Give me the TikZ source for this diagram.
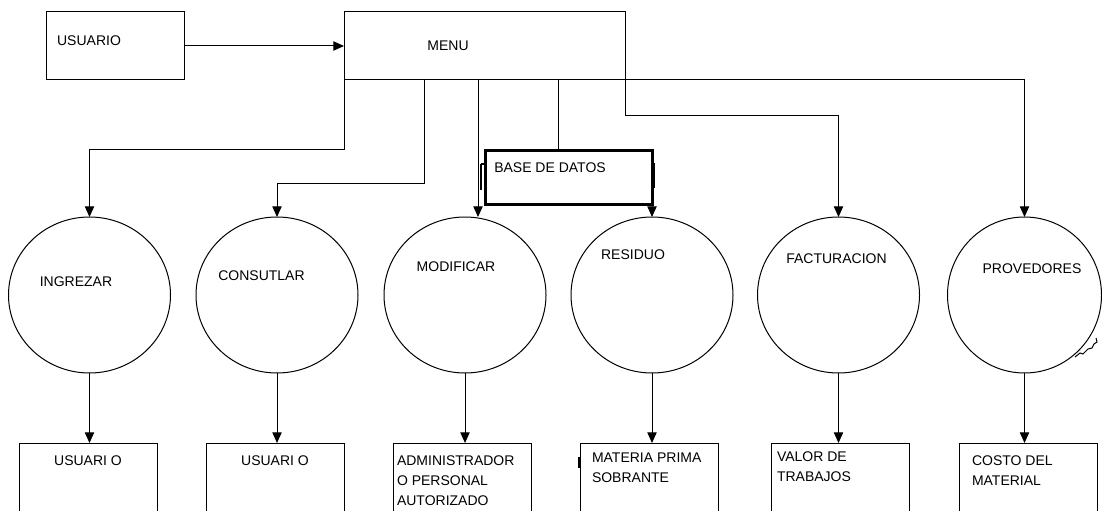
\documentclass[tikz,border=0pt]{standalone}
\usepackage{fontspec}
\setmainfont{Liberation Sans}
\usetikzlibrary{arrows.meta,shapes.geometric}

\begin{document}
\begin{tikzpicture}[x=0.75pt,y=-0.75pt,
  every node/.style={font=\fontsize{10.5pt}{15pt}\selectfont, inner sep=0pt, outer sep=0pt},
  box/.style={draw, line width=0.75pt, minimum height=51pt},
  lowbox/.style={draw, line width=0.75pt, minimum width=103.5pt, minimum height=57.75pt, anchor=north},
  proc/.style={draw, ellipse, line width=0.75pt, minimum width=121.5pt, minimum height=117pt},
  lbll/.style={align=left, anchor=north west},
  link/.style={line width=0.75pt},
  arr/.style={link, -{Triangle[length=8pt,width=7pt]}},
]
\useasboundingbox (0,0) rectangle (1102,510);
\fill[white] (0,0) rectangle (1102,510);
\clip (0,0) rectangle (1102,510);

% top row
\node[box, minimum width=103.5pt] (usr) at (115,46) {};
\node[box, minimum width=210.75pt] (menu) at (484.5,46) {};
\node (t-usr) at (89,41) {USUARIO};
\node (t-menu) at (448,46) {MENU};

% data store
\node[draw, line width=2.25pt, minimum width=124.9pt, minimum height=40.5pt] (base) at (568.75,177.5) {};
\node (t-base) at (550,168) {BASE DE DATOS};

% processes
\node[proc] (ing)  at (89.5,295) {};
\node[proc] (con)  at (277,295) {};
\node[proc] (mod)  at (465,295) {};
\node[proc] (res)  at (652,295) {};
\node[proc] (fac)  at (838.5,295) {};
\node[proc, minimum width=115.5pt] (prov) at (1024.5,295) {};
\node (t-ing)  at (76,282)    {INGREZAR};
\node (t-con)  at (261.5,276) {CONSUTLAR};
\node (t-mod)  at (456,267)   {MODIFICAR};
\node (t-res)  at (633,255)   {RESIDUO};
\node (t-fac)  at (836.5,259) {FACTURACION};
\node (t-prov) at (1032,269)  {PROVEDORES};

% outputs
\node[lowbox] (b1) at (88,443) {};
\node[lowbox] (b2) at (275.5,443) {};
\node[lowbox] (b3) at (462,443) {};
\node[lowbox] (b4) at (649.5,443) {};
\node[lowbox] (b5) at (840,443) {};
\node[lowbox] (b6) at (1028,443) {};
\node (t-b1) at (88,461) {USUARI O};
\node (t-b2) at (275,461) {USUARI O};
\node[lbll] (t-b3) at (397,456) {ADMINISTRADOR\\O PERSONAL\\AUTORIZADO};
\node[lbll] (t-b4) at (592,453) {MATERIA PRIMA\\SOBRANTE};
\node[lbll] (t-b5) at (777,452) {VALOR DE\\TRABAJOS};
\node[lbll] (t-b6) at (972,456) {COSTO DEL\\MATERIAL};

% branch points on the menu
\coordinate (m2) at (424,80);
\coordinate (m3) at (478,80);
\coordinate (m4) at (558,80);

% connectors
\draw[arr] (usr.east) -- (menu.west);
\draw[arr] (menu.south west) -- ++(0,69) -| (ing.north);
\draw[arr] (m2) -- ++(0,103) -| (con.north);
\draw[arr] (m3) -- (m3 |- mod.north);
\draw[link] (m4) -- (m4 |- base.north);
\draw[arr] (base.south east) -- (res.north);
\draw[arr] (menu.south east) -- ++(0,35) -| (fac.north);
\draw[arr] (menu.south east) -| (prov.north);

\draw[arr] (ing.south)  -- (ing.south  |- b1.north);
\draw[arr] (con.south)  -- (con.south  |- b2.north);
\draw[arr] (mod.south)  -- (mod.south  |- b3.north);
\draw[arr] (res.south)  -- (res.south  |- b4.north);
\draw[arr] (fac.south)  -- (fac.south  |- b5.north);
\draw[arr] (prov.south) -- (prov.south |- b6.north);

% stray marks
\draw[line width=2pt] (481,164) -- (481,190);
\draw[line width=1.2pt] (481,164) -- (486,164);
\draw[line width=2pt] (653.5,163) -- (653.5,188);
\draw[line width=1.5pt] (579,457) -- (579,468);
\draw[line width=0.75pt] (1075,357) -- (1080,353) -- (1083,354) -- (1088,349)
  -- (1092,348) -- (1094,344) -- (1097,342) -- (1096,338);
\end{tikzpicture}
\end{document}
